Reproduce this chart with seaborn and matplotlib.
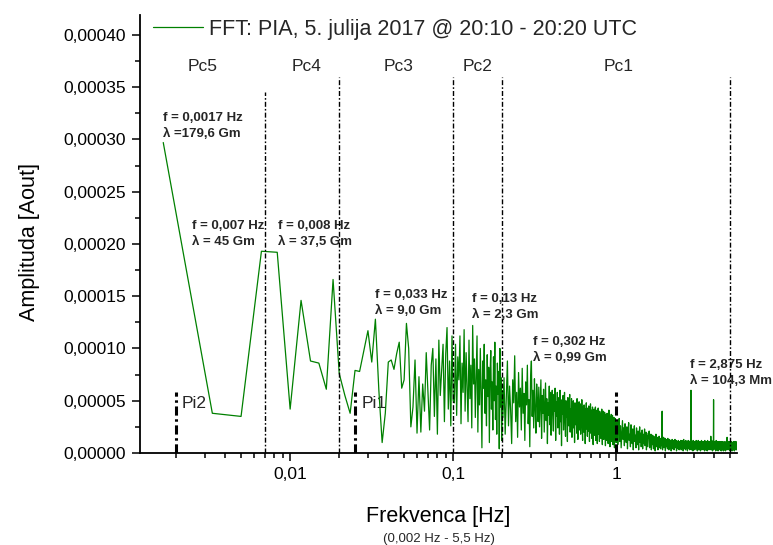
import numpy as np
import pandas as pd
import matplotlib
matplotlib.use('Agg')
import matplotlib.pyplot as plt
import seaborn as sns
from matplotlib.ticker import FixedLocator, FuncFormatter, LogLocator, MultipleLocator, NullFormatter

# FFT of a 10 min record -> bin width 1/600 Hz
bin_width = 1 / 600

# amplitudes in 1e-6 Aout
# bins 1..60  (0.0017 - 0.1 Hz)
amp_low = [297, 38, 35, 193, 192, 42, 146, 88, 86, 61,
           166, 76, 55, 38, 79, 78, 98, 117, 87, 128,
           60, 10, 38, 87, 89, 80, 95, 106, 62, 70,
           124, 100, 25, 44, 89, 19, 73, 20, 66, 40,
           96, 58, 22, 84, 100, 35, 90, 18, 108, 55,
           80, 104, 30, 95, 120, 42, 88, 26, 112, 50]
# bins 61..120  (0.1 - 0.2 Hz)
amp_pc2 = [48, 104, 36, 92, 70, 112, 28, 86, 58, 118,
           40, 96, 64, 30, 108, 52, 84, 24, 122, 66,
           90, 34, 74, 112, 20, 80, 46, 100, 58, 5,
           88, 62, 104, 38, 70, 26, 94, 54, 82, 10,
           76, 98, 42, 68, 22, 92, 50, 106, 32, 64,
           18, 86, 56, 78, 4, 100, 44, 72, 12, 60]
# every 2nd bin from 121  (0.2 - 1 Hz)
amp_pc1 = [34, 72, 18, 55, 88, 26, 64, 41, 9, 70, 48, 93, 30, 58, 15, 77, 44, 62, 22, 81,
           38, 57, 12, 68, 46, 84, 28, 51, 6, 73, 88, 35, 60, 24, 71, 42, 19, 66, 50, 30,
           63, 25, 47, 70, 14, 55, 38, 61, 20, 44, 67, 31, 52, 9, 48, 36, 64, 27, 58, 17,
           45, 60, 33, 21, 56, 40, 62, 12, 49, 35, 58, 24, 43, 53, 18, 60, 30, 46, 7, 51,
           37, 55, 22, 44, 58, 29, 16, 50, 34, 47, 11, 53, 39, 26, 48, 56, 20, 42, 31, 52,
           15, 45, 36, 50, 24, 41, 10, 48, 33, 27, 46, 19, 52, 38, 13, 43, 29, 49, 22, 37,
           47, 18, 40, 31, 51, 25, 12, 44, 35, 20, 46, 28, 39, 9, 42, 33, 48, 23, 37, 16,
           43, 30, 21, 45, 34, 11, 40, 27, 47, 19, 36, 41, 14, 32, 44, 24, 8, 38, 29, 42,
           17, 35, 26, 44, 12, 39, 31, 22, 41, 9, 34, 28, 43, 18, 37, 24, 11, 40, 30, 21,
           38, 14, 33, 27, 42, 19, 8, 36, 29, 40, 23, 13, 35, 26, 39, 16, 31, 7, 37, 25,
           20, 34, 12, 38, 28, 17, 36, 9, 30, 24, 41, 15, 27, 33, 6, 35, 22, 29, 14, 37,
           26, 11, 32, 19, 36, 23, 8, 30, 28, 15, 34, 20, 5, 31, 25, 13, 33, 18, 27, 10]
# every 6th bin from 601  (1 - 5.5 Hz)
amp_hf = [14, 30, 8, 22, 33, 11, 26, 5, 19, 31, 13, 24, 7, 28, 17, 10, 25, 4, 21, 29, 12, 18, 6, 27, 15, 9, 23, 3, 20, 26,
          11, 17, 5, 24, 14, 8, 21, 3, 16, 25, 10, 19, 6, 13, 22, 4, 18, 9, 15, 23, 7, 12, 20, 3, 17, 11, 6, 19, 14, 21,
          5, 15, 10, 18, 3, 13, 8, 17, 12, 4, 16, 9, 14, 2, 11, 18, 6, 13, 8, 15, 3, 12, 10, 16, 5, 9, 14, 4, 11, 13,
          7, 40, 3, 12, 9, 15, 5, 11, 8, 14, 2, 10, 13, 6, 9, 12, 4, 14, 7, 11, 3, 9, 13, 5, 10, 8, 12, 2, 11, 7,
          13, 4, 9, 12, 6, 10, 3, 11, 8, 13, 5, 9, 7, 12, 2, 10, 6, 11, 8, 4, 12, 7, 9, 3, 11, 6, 10, 5, 12, 8,
          3, 10, 7, 12, 5, 9, 11, 2, 8, 13, 6, 10, 4, 9, 11, 7, 3, 12, 8, 5, 10, 6, 11, 2, 9, 7, 12, 4, 10, 8,
          5, 11, 3, 9, 7, 12, 4, 60, 8, 3, 10, 6, 11, 5, 9, 2, 12, 7, 8, 4, 10, 6, 11, 3, 9, 7, 5, 10, 8, 12,
          4, 9, 6, 11, 2, 8, 10, 5, 12, 7, 3, 9, 11, 6, 8, 4, 10, 7, 2, 11, 9, 5, 8, 12, 3, 10, 6, 9, 4, 11,
          7, 3, 10, 8, 5, 11, 6, 9, 2, 12, 8, 4, 10, 7, 9, 3, 11, 5, 8, 10, 6, 2, 9, 12, 4, 7, 10, 5, 8, 11,
          3, 9, 6, 10, 4, 8, 11, 5, 7, 9, 16, 3, 10, 6, 8, 12, 4, 9, 7, 2, 10, 5, 8, 11, 6, 51, 3, 9, 7, 10,
          5, 8, 11, 4, 9, 6, 10, 2, 8, 7, 12, 5, 9, 3, 10, 6, 8, 11, 4, 7, 9, 2, 10, 6, 8, 5, 11, 3, 9, 7,
          10, 4, 8, 6, 11, 3, 9, 7, 5, 10, 2, 8, 11, 6, 9, 4, 7, 10, 3, 8, 6, 11, 5, 9, 2, 10, 7, 4, 8, 9,
          6, 10, 3, 8, 11, 5, 9, 2, 7, 10, 4, 8, 6, 9, 3, 11, 7, 5, 15, 8, 10, 4, 6, 9, 3, 8, 11, 5, 7, 10,
          4, 9, 6, 11, 3, 8, 10, 5, 7, 2, 9, 11, 6, 8, 4, 10, 3, 7, 9, 5, 11, 6, 8, 2, 10, 7, 4, 9, 5, 8,
          10, 3, 7, 9, 5, 11, 4, 8, 6, 10, 2, 9, 7, 5, 11, 8, 3, 10, 6, 9, 4, 8, 11, 5, 7, 3, 9, 10, 6, 8]

bins = np.concatenate([np.arange(1, 61), np.arange(61, 121),
                       np.arange(121, 600, 2), np.arange(601, 3300, 6)])
spectrum = pd.DataFrame({
    'freq': bins * bin_width,
    'amp': np.array(amp_low + amp_pc2 + amp_pc1 + amp_hf) * 1e-6,
})

# Pc / Pi band boundaries
pc_bounds = [0.007, 0.02, 0.1, 0.2, 5]
pc_tops = [0.000345, 0.00036, 0.00036, 0.00036, 0.00036]
pi_bounds = [0.002, 0.025, 1]
pi_top = 0.000058

pc_labels = ['Pc5', 'Pc4', 'Pc3', 'Pc2', 'Pc1']
pc_label_x = [0.00292, 0.01254, 0.046, 0.141, 1.03]
pi_labels = ['Pi2', 'Pi1']
pi_label_x = [0.00217, 0.0275]

peak_text = ['f = 0,0017 Hz\nλ =179,6 Gm', 'f = 0,007 Hz\nλ = 45 Gm',
             'f = 0,008 Hz\nλ = 37,5 Gm', 'f = 0,033 Hz\nλ = 9,0 Gm',
             'f = 0,13 Hz\nλ = 2,3 Gm', 'f = 0,302 Hz\nλ = 0,99 Gm',
             'f = 2,875 Hz\nλ = 104,3 Mm']
peak_x = [0.001664, 0.00249, 0.00848, 0.0332, 0.1303, 0.3085, 2.844]
peak_y = [313e-6, 209.6e-6, 209.6e-6, 143.7e-6, 140e-6, 98.6e-6, 76.6e-6]

sns.set_theme(style='ticks')
plt.rcParams['font.family'] = ['Liberation Sans', 'DejaVu Sans']

fig = plt.figure(figsize=(7.73, 5.45), dpi=100)
ax = fig.add_axes([0.1811, 0.1688, 0.7723, 0.8037])

sns.lineplot(data=spectrum, x='freq', y='amp', estimator=None, sort=True,
             color='#008000', linewidth=0.9, ax=ax, zorder=2,
             label='FFT: PIA, 5. julija 2017 @ 20:10 - 20:20 UTC')

for f, top in zip(pc_bounds, pc_tops):
    ax.plot([f, f], [0, top], color='black', linewidth=1.0,
            linestyle=(0, (3.6, 1.5, 1.2, 1.5)), zorder=3)
for f in pi_bounds:
    ax.plot([f, f], [0, pi_top], color='black', linewidth=2.2,
            linestyle=(0, (3, 1.2, 0.8, 1.2)), zorder=3)

for lab, x in zip(pc_labels, pc_label_x):
    ax.text(x, 0.00037, lab, ha='center', va='center', fontsize=12.5, zorder=1)
for lab, x in zip(pi_labels, pi_label_x):
    ax.text(x, 0.0000475, lab, ha='left', va='center', fontsize=12.5, zorder=1)
for txt, x, y in zip(peak_text, peak_x, peak_y):
    ax.text(x, y, txt, ha='left', va='center', fontsize=9.5, fontweight='bold',
            linespacing=1.45, zorder=1)

ax.set_xscale('log')
ax.set_xlim(0.0012, 5.5)
ax.set_ylim(0, 0.000419)

ax.xaxis.set_major_locator(FixedLocator([0.01, 0.1, 1]))
ax.xaxis.set_major_formatter(FuncFormatter(lambda v, p: f'{v:g}'.replace('.', ',')))
ax.xaxis.set_minor_locator(LogLocator(base=10, subs=np.arange(2, 10)))
ax.xaxis.set_minor_formatter(NullFormatter())
ax.yaxis.set_major_locator(MultipleLocator(0.00005))
ax.yaxis.set_minor_locator(MultipleLocator(0.000025))
ax.yaxis.set_major_formatter(FuncFormatter(lambda v, p: f'{v:.5f}'.replace('.', ',')))

ax.tick_params(which='major', length=6, width=1.1, direction='out',
               labelsize=12.5, color='black', labelcolor='black', pad=4)
ax.tick_params(which='minor', length=3.5, width=1.1, direction='out', color='black')
for side in ['left', 'bottom']:
    ax.spines[side].set_linewidth(1.3)
    ax.spines[side].set_color('black')
sns.despine(ax=ax)

ax.set_xlabel('Frekvenca [Hz]', fontsize=15.5, color='black')
ax.xaxis.set_label_coords(0.5, -0.121)
ax.set_ylabel('Amplituda [Aout]', fontsize=15.5, color='black')
ax.yaxis.set_label_coords(-0.167, 0.482)
ax.text(0.5, (453 - 539) / 438, '(0,002 Hz - 5,5 Hz)', transform=ax.transAxes,
        ha='center', va='center', fontsize=9.5)

ax.legend(loc='center left', bbox_to_anchor=(0.0218, 0.968), frameon=False,
          fontsize=15.5, handlelength=2.3, handletextpad=0.28, borderpad=0,
          borderaxespad=0)

plt.savefig('out.png', dpi=100)
